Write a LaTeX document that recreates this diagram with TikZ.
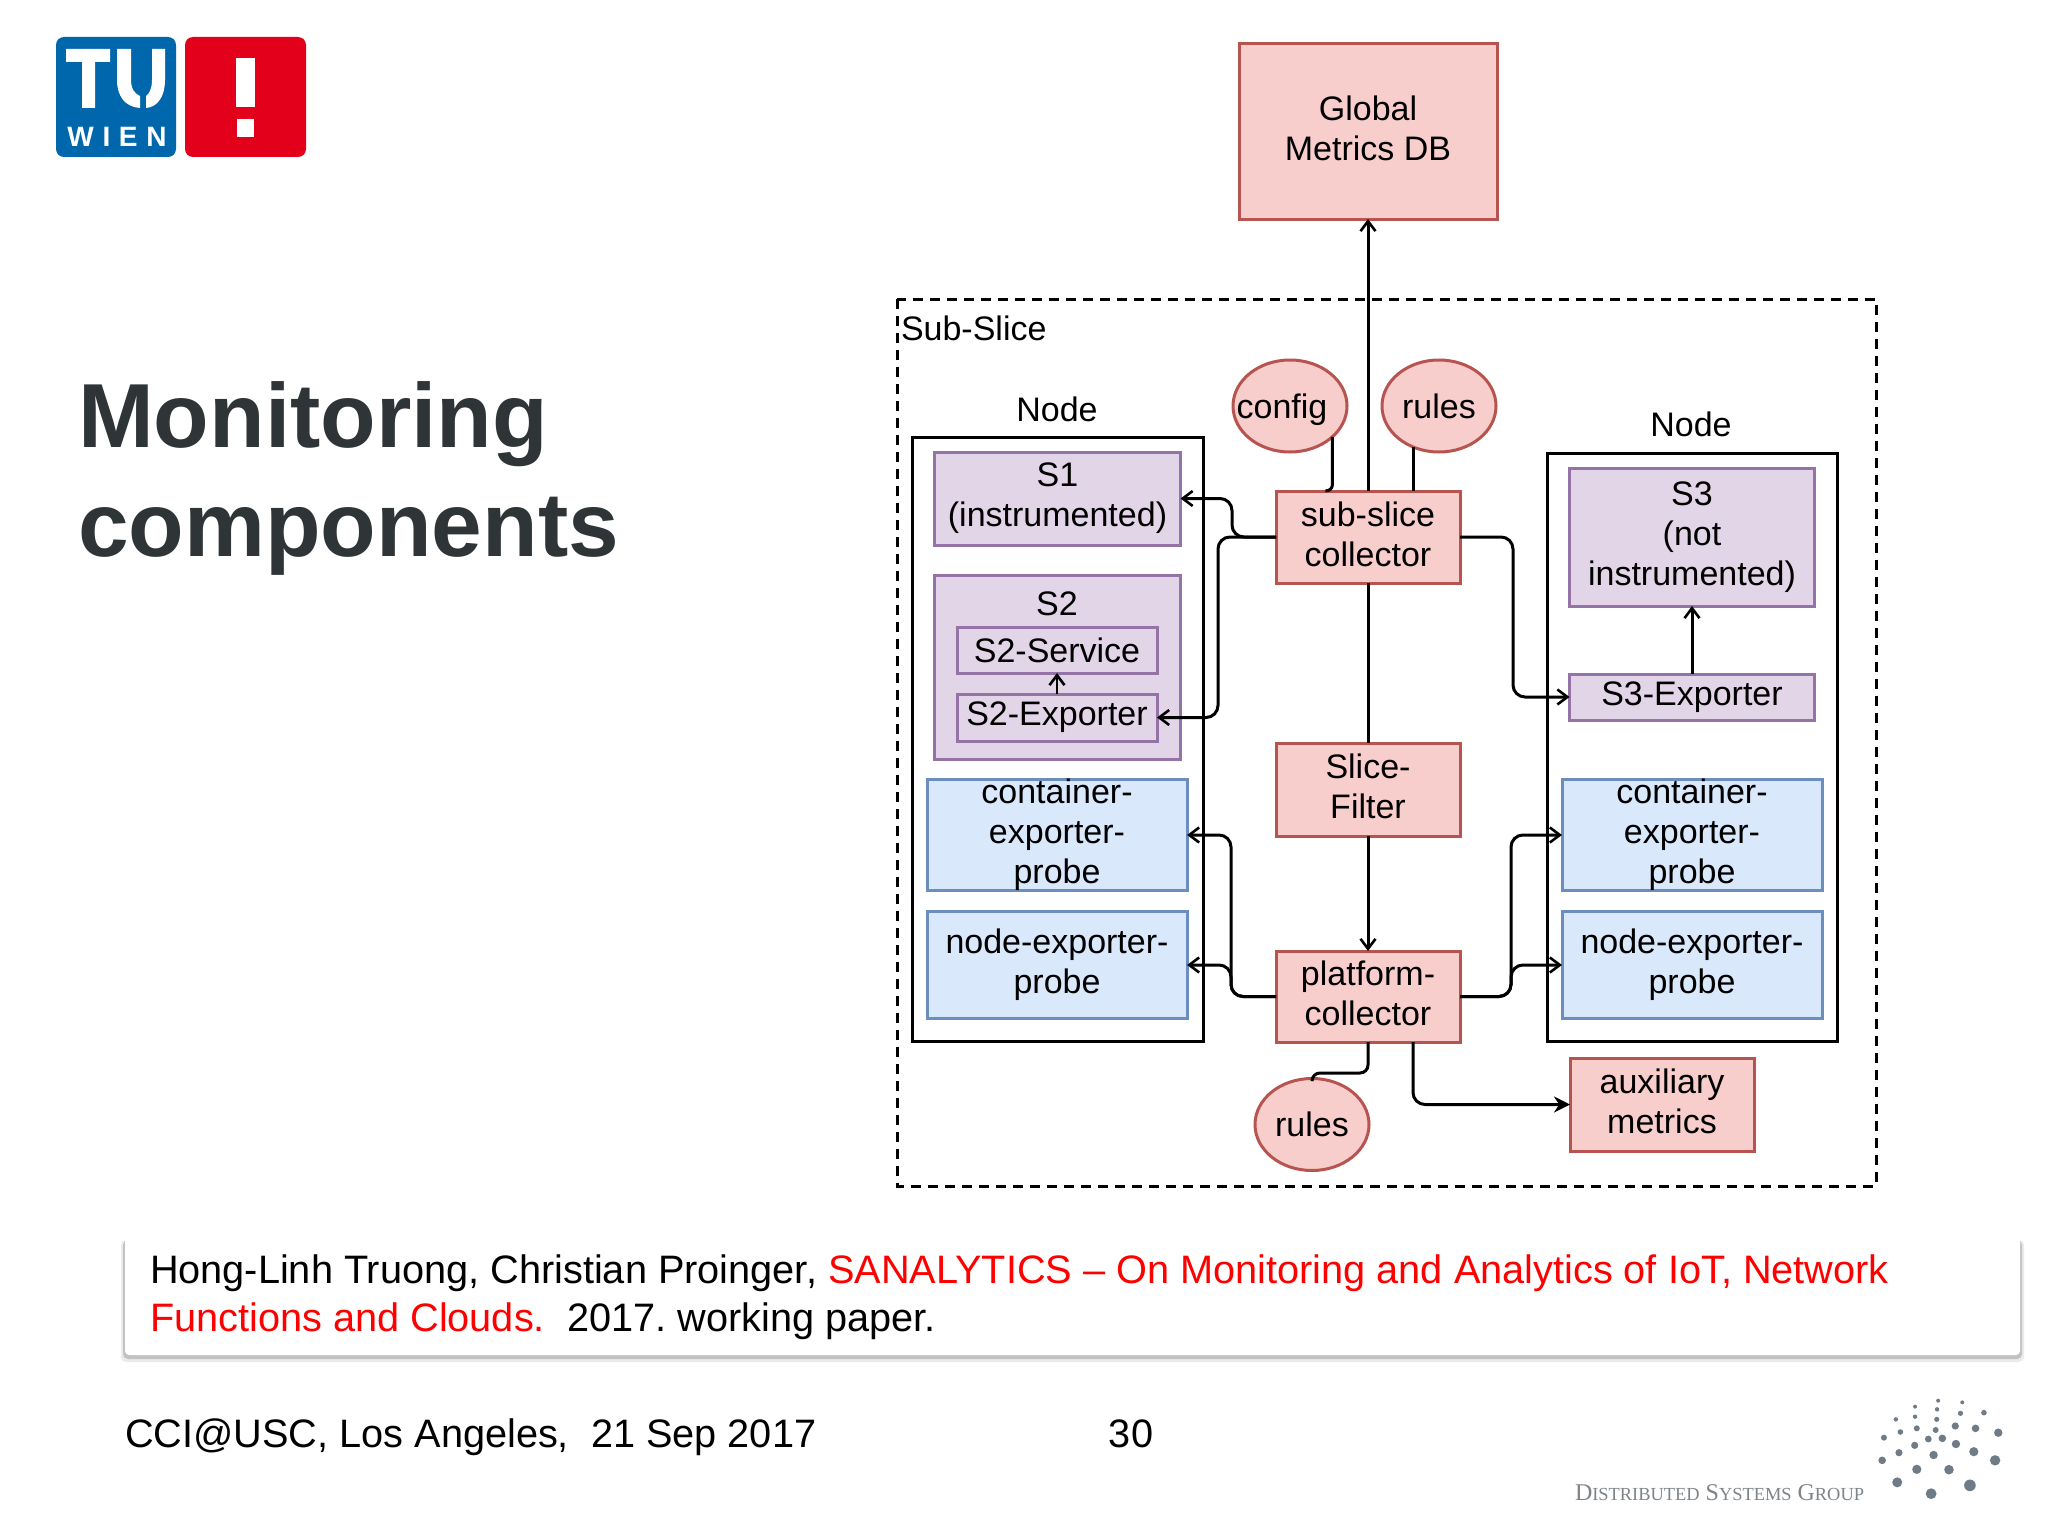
\documentclass[tikz,border=0pt]{standalone}
\usepackage{fontspec}
\setmainfont{Liberation Sans}
\newfontfamily\dsgfont{Liberation Serif}
\usetikzlibrary{positioning, arrows.meta, calc, shapes.geometric}
\definecolor{redfill}{HTML}{F8CECC}
\definecolor{redline}{HTML}{B85450}
\definecolor{purplefill}{HTML}{E1D5E7}
\definecolor{purpleline}{HTML}{9673A6}
\definecolor{bluefill}{HTML}{DAE8FC}
\definecolor{blueline}{HTML}{6C8EBF}
\definecolor{titlegrey}{HTML}{2F3536}
\definecolor{tublue}{HTML}{0067AC}
\definecolor{tured}{HTML}{E2001A}
\definecolor{dsggrey}{HTML}{7F8488}
\definecolor{dotgrey}{HTML}{6F7C88}
\frenchspacing
\tikzset{
    every node/.style={inner sep=0pt, outer sep=0pt, text=black},
    label text/.style={font=\fontsize{34}{40}\selectfont, align=center},
    redbox/.style={label text, draw=redline, fill=redfill, line width=3pt, text depth=6pt},
    redcirc/.style={redbox, ellipse, minimum width=114pt, minimum height=92pt, text depth=0pt},
    purplebox/.style={label text, draw=purpleline, fill=purplefill, line width=3pt},
    bluebox/.style={label text, draw=blueline, fill=bluefill, line width=3pt, minimum width=260pt, minimum height=107pt},
    hostbox/.style={draw=black, line width=3pt},
    conn/.style={line width=3pt, rounded corners=12pt},
    barb/.style={conn, -{Straight Barb[length=10pt, width=15pt, line width=2.6pt]}},
    footer text/.style={font=\fontsize{39.7}{48}\selectfont},
    title text/.style={anchor=base west, text=titlegrey, font=\fontsize{91}{109}\bfseries\selectfont},
}
\begin{document}
\begin{tikzpicture}[x=1pt, y=-1pt]
    \useasboundingbox (0,0) rectangle (2048,1536);
    \fill[white] (0,0) rectangle (2048,1536);

    \fill[tublue, rounded corners=8pt] (56,37) rectangle (176,157);
    \fill[tured, rounded corners=8pt] (185,37) rectangle (306,157);
    \fill[white] (66,49) -- (110,49) -- (110,62) -- (95,62) -- (95,108) -- (82,108) -- (82,62) -- (66,62) -- cycle;
    \fill[white] (117,49) -- (131,49) -- (131,80) .. controls (131,89) and (135,94) .. (140,96) -- (140,108) .. controls (125,107) and (117,96) .. (117,80) -- cycle;
    \fill[white] (165,49) -- (152,49) -- (152,80) .. controls (152,89) and (149,94) .. (146,96) -- (146,108) .. controls (158,107) and (165,96) .. (165,80) -- cycle;
    \fill[white] (236,58) rectangle (255,107);
    \fill[white] (237,119) rectangle (254,137);
    \node[text=white, font=\fontsize{28}{28}\bfseries\addfontfeatures{LetterSpace=31}] (wien) at (117,137) {WIEN};

    \node[title text] (title1) at (78,447.5) {Monitoring};
    \node[title text] (title2) at (78,556.5) {components};

    \draw[line width=3pt, dash pattern=on 10pt off 7pt] (897,299) rectangle (1876,1186);
    \node[label text, anchor=west] (subslicelabel) at (901,328) {Sub-Slice};

    \node[redbox, minimum width=258pt, minimum height=175pt] (globaldb) at (1368,131.5) {Global\\Metrics DB};

    \node[label text] (nodeleft) at (1057,409) {Node};
    \node[hostbox, minimum width=291pt, minimum height=604pt] (hostleft) at (1057.5,739) {};
    \node[purplebox, minimum width=246pt, minimum height=93pt] (sone) at (1057.5,498.5) {S1\\(instrumented)};
    \node[purplebox, minimum width=246pt, minimum height=184pt] (stwo) at (1057.5,667) {};
    \node[label text] (stwolabel) at (1057,604) {S2};
    \node[purplebox, minimum width=200pt, minimum height=46pt] (stwoservice) at (1057,650) {S2-Service};
    \node[purplebox, minimum width=200pt, minimum height=47pt] (stwoexporter) at (1057,717.5) {S2-Exporter};
    \node[bluebox] (containerleft) at (1057,835) {container-\\exporter-\\probe};
    \node[bluebox] (probeleft) at (1057,965) {node-exporter-\\probe};

    \node[label text] (noderight) at (1691,424.5) {Node};
    \node[hostbox, minimum width=290pt, minimum height=588pt] (hostright) at (1692.5,747) {};
    \node[purplebox, minimum width=245pt, minimum height=138pt] (sthree) at (1692,537) {S3\\(not\\instrumented)};
    \node[purplebox, minimum width=245pt, minimum height=46pt] (sthreeexporter) at (1692,697) {S3-Exporter};
    \node[bluebox] (containerright) at (1692,835) {container-\\exporter-\\probe};
    \node[bluebox] (proberight) at (1692,965) {node-exporter-\\probe};

    \node[redcirc] (config) at (1290,406) {\makebox[0pt]{\hspace{-16pt}config}};
    \node[redcirc] (rulestop) at (1439,406) {rules};
    \node[redbox, minimum width=184pt, minimum height=92pt] (subslice) at (1368,537) {sub-slice\\collector};
    \node[redbox, minimum width=184pt, minimum height=93pt] (slicefilter) at (1368,789.5) {Slice-\\Filter};
    \node[redbox, minimum width=184pt, minimum height=91pt] (platform) at (1368,996.5) {platform-\\collector};
    \node[redcirc] (rulesbottom) at (1312,1124.5) {rules};
    \node[redbox, minimum width=184pt, minimum height=93pt] (auxiliary) at (1662,1104.5) {auxiliary\\metrics};

    \draw[barb] (subslice.north) -- (globaldb.south);
    \draw[conn, rounded corners=6pt] (config.-36) -- ++(0,54) -- ++(-7,0);
    \draw[conn] (rulestop.-122) -- (rulestop.-122 |- subslice.north);
    \draw[barb] (subslice.west) -- ++(-44,0) |- (sone.east);
    \draw[barb] (subslice.west) -- ++(-58,0) |- (stwoexporter.east);
    \draw[barb] (subslice.east) -- ++(53,0) |- (sthreeexporter.west);
    \draw[barb] (sthreeexporter.north) -- (sthree.south);
    \draw[barb, line width=2pt] (stwoexporter.north) -- (stwoservice.south);
    \draw[conn] (subslice.south) -- (slicefilter.north);
    \draw[barb] (slicefilter.south) -- (platform.north);
    \draw[barb] (platform.west) -- ++(-45,0) |- (containerleft.east);
    \draw[barb] (platform.west) -- ++(-45,0) |- (probeleft.east);
    \draw[barb] (platform.east) -- ++(51,0) |- (containerright.west);
    \draw[barb] (platform.east) -- ++(51,0) |- (proberight.west);
    \draw[conn, rounded corners=8pt] (platform.south) -- ++(0,31) -| (rulesbottom.north);
    \draw[conn, -{Stealth[length=16pt, width=16pt]}] (platform.south -| 1413,0) |- (auxiliary.west);

    \fill[black!8, rounded corners=5pt] (121,1240) rectangle (2024,1362);
    \fill[black!24, rounded corners=5pt] (123,1240) rectangle (2022,1359);
    \node[fill=white, rounded corners=4pt, minimum width=1895pt, minimum height=123pt] (footerbox) at (1072.5,1293.5) {};
    \node[footer text, anchor=base west] (refone) at (150,1283) {Hong-Linh Truong, Christian Proinger, \textcolor{red}{SANALYTICS – On Monitoring and Analytics of IoT, Network}};
    \node[footer text, anchor=base west] (reftwo) at (150,1331) {\textcolor{red}{Functions and Clouds.}\ \ 2017. working paper.};

    \node[footer text, anchor=base west] (venue) at (125,1447) {CCI@USC, Los Angeles,\ \ 21 Sep 2017};
    \node[footer text, anchor=base] (pagenum) at (1131,1447) {30};

    \node[anchor=base west, text=dsggrey, font=\dsgfont\fontsize{24}{24}\selectfont] (dsg) at (1575,1500) {D{\fontsize{18.4}{18.4}\selectfont ISTRIBUTED} S{\fontsize{18.4}{18.4}\selectfont YSTEMS} G{\fontsize{18.4}{18.4}\selectfont ROUP}};
    \foreach \x/\y/\r in {1187/140/2, 1253/122/2, 1322/127/2, 1250/148/2.2, 1317/160/2.6, 1384/158/2.8, 1187/170/2.2, 1132/178/2.2, 1249/178/2.6, 1192/205/3, 1145/216/2.8, 1246/210/3, 1302/198/3.6, 1360/205/3.8, 1425/218/4.2, 1098/233/3, 1225/237/3.4, 1265/235/3.8, 1186/256/3.6, 1304/252/4.2, 1355/275/4.6, 1141/278/3.6, 1240/285/4.2, 1093/301/3.8, 1416/301/5.2, 1192/328/4.6, 1284/329/4.8, 1136/367/5, 1344/376/5.8, 1233/401/5.4}
        \fill[dotgrey] ({1500+\x/2.86},{1360+\y/3}) circle (\r pt);
\end{tikzpicture}
\end{document}
